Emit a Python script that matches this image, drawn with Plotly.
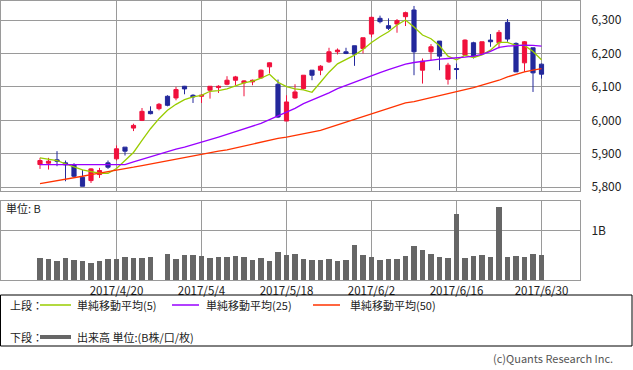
import plotly.graph_objects as go

# ---------------- data ----------------
idx = list(range(60))
tick_idx = [9, 19, 29, 39, 49, 59]
tick_labels = ["2017/4/20", "2017/5/4", "2017/5/18", "2017/6/2", "2017/6/16", "2017/6/30"]
price_ticks = [5800, 5900, 6000, 6100, 6200, 6300]

open_ = [5868, 5872, 5882, 5873, 5868, 5830, 5820, 5838, 5873, 5885,
         5920, 5977, 6000, 6027, 6035, 6072, 6067, 6102, 6075, 6072,
         6090, 6098, 6108, 6120, 6112, 6115, 6127, 6160, 6108, 5998,
         6067, 6095, 6150, 6150, 6175, 6205, 6205, 6223, 6215, 6258,
         6305, 6283, 6288, 6310, 6330, 6150, 6205, 6237, 6123, 6155,
         6195, 6232, 6200, 6240, 6232, 6293, 6230, 6172, 6217, 6168]
high = [5888, 5888, 5908, 5880, 5872, 5852, 5857, 5858, 5880, 5925,
        5920, 5990, 6037, 6042, 6052, 6075, 6100, 6103, 6078, 6078,
        6102, 6105, 6132, 6133, 6120, 6122, 6152, 6173, 6122, 6075,
        6108, 6135, 6150, 6165, 6217, 6215, 6217, 6223, 6247, 6310,
        6313, 6305, 6303, 6325, 6342, 6185, 6228, 6237, 6172, 6170,
        6242, 6235, 6235, 6258, 6270, 6303, 6233, 6237, 6217, 6170]
low = [5855, 5853, 5863, 5818, 5830, 5803, 5813, 5828, 5855, 5880,
       5895, 5968, 5998, 6018, 6030, 6042, 6060, 6078, 6052, 6052,
       6065, 6082, 6105, 6105, 6072, 6105, 6125, 6140, 6007, 5998,
       6065, 6092, 6120, 6135, 6172, 6197, 6198, 6163, 6200, 6248,
       6290, 6270, 6262, 6282, 6135, 6110, 6180, 6150, 6107, 6123,
       6195, 6185, 6200, 6220, 6215, 6235, 6145, 6145, 6085, 6125]
close = [5880, 5878, 5878, 5867, 5833, 5803, 5855, 5850, 5860, 5915,
         5908, 5985, 6027, 6020, 6048, 6045, 6092, 6094, 6070, 6075,
         6102, 6102, 6120, 6130, 6118, 6120, 6150, 6172, 6010, 6055,
         6085, 6135, 6135, 6162, 6205, 6210, 6200, 6198, 6247, 6308,
         6295, 6275, 6298, 6322, 6205, 6177, 6220, 6192, 6165, 6152,
         6240, 6190, 6235, 6235, 6263, 6243, 6145, 6235, 6142, 6138]

ma5 = [5888, 5884, 5880, 5870, 5860, 5852, 5847, 5842, 5842, 5856,
       5880, 5904, 5940, 5975, 6005, 6030, 6048, 6062, 6070, 6075,
       6087, 6089, 6094, 6104, 6112, 6117, 6126, 6138, 6114, 6101,
       6094, 6091, 6084, 6114, 6144, 6169, 6182, 6195, 6212, 6233,
       6250, 6265, 6285, 6300, 6279, 6255, 6244, 6223, 6192, 6181,
       6194, 6188, 6196, 6210, 6233, 6233, 6224, 6224, 6206, 6181]
ma25 = [5868, 5868, 5868, 5868, 5868, 5868, 5868, 5868, 5868, 5868,
        5868, 5876, 5884, 5892, 5900, 5907, 5914, 5920, 5927, 5935,
        5943, 5950, 5958, 5966, 5974, 5982, 5991, 6002, 6013, 6023,
        6036, 6050, 6060, 6070, 6082, 6095, 6105, 6115, 6125, 6135,
        6143, 6152, 6160, 6168, 6173, 6177, 6180, 6183, 6185, 6186,
        6189, 6192, 6197, 6206, 6218, 6222, 6224, 6225, 6224, 6222]
ma50 = [5811, 5815, 5820, 5824, 5828, 5833, 5838, 5842, 5846, 5850,
        5855, 5860, 5865, 5870, 5875, 5880, 5885, 5890, 5895, 5900,
        5904, 5908, 5912, 5918, 5924, 5930, 5936, 5942, 5946, 5950,
        5955, 5960, 5965, 5970, 5978, 5986, 5995, 6003, 6010, 6018,
        6026, 6036, 6044, 6052, 6056, 6062, 6067, 6073, 6078, 6085,
        6092, 6098, 6105, 6112, 6120, 6130, 6138, 6145, 6150, 6155]

volume_b = [0.44, 0.42, 0.385, 0.44, 0.405, 0.385, 0.34, 0.385, 0.42, 0.42,
            0.46, 0.44, 0.44, 0.46, None, 0.52, 0.42, 0.50, 0.50, 0.48,
            0.44, 0.46, 0.46, 0.48, 0.46, 0.40, 0.44, 0.385, 0.56, 0.50,
            0.52, 0.42, 0.40, 0.40, 0.42, 0.38, 0.40, 0.70, 0.50, 0.46,
            0.40, 0.42, 0.42, 0.48, 0.68, 0.60, 0.52, 0.46, 0.44, 1.33,
            0.44, 0.48, 0.50, 0.46, 1.47, 0.46, 0.48, 0.46, 0.52, 0.50]

legend_names = ["単純移動平均(5)", "単純移動平均(25)", "単純移動平均(50)"]

# ---------------- style ----------------
RED = "#f0103c"
BLUE = "#23289b"
C5 = "#99cc00"
C25 = "#9900ff"
C50 = "#ff3300"
VOLC = "#666666"
GRID = "#9a9a9a"
FONT = "Noto Sans CJK JP"

W, H = 633, 370
ML, MR, MT, MB = 1, 53, 0, 90
PW, PH = W - ML - MR, H - MT - MB


def fx(px):
    return (px - ML) / PW


def fy(py):
    return (PH - (py - MT)) / PH


fig = go.Figure()

fig.add_trace(go.Candlestick(
    x=idx, open=open_, high=high, low=low, close=close,
    increasing=dict(line=dict(color=RED, width=1), fillcolor=RED),
    decreasing=dict(line=dict(color=BLUE, width=1), fillcolor=BLUE),
    whiskerwidth=0, showlegend=False, hoverinfo="skip",
    xaxis="x", yaxis="y"))

for vals, col, name in [(ma5, C5, legend_names[0]), (ma25, C25, legend_names[1]), (ma50, C50, legend_names[2])]:
    fig.add_trace(go.Scatter(x=idx, y=vals, mode="lines", name=name,
                             line=dict(color=col, width=1.3), showlegend=False,
                             hoverinfo="skip", xaxis="x", yaxis="y"))

fig.add_trace(go.Bar(x=idx, y=volume_b, marker=dict(color=VOLC, line=dict(width=0)),
                     width=0.68, showlegend=False, hoverinfo="skip",
                     xaxis="x2", yaxis="y2"))

xr = [(ML - 40) / 8.5, (W - MR - 40) / 8.5]
axis_common = dict(showline=True, mirror=True, linecolor=GRID, linewidth=1,
                   gridcolor=GRID, gridwidth=1, zeroline=False)

fig.update_layout(
    width=W, height=H,
    margin=dict(l=ML, r=MR, t=MT, b=MB),
    paper_bgcolor="white", plot_bgcolor="white",
    font=dict(family=FONT, size=12, color="#222"),
    showlegend=False,
    bargap=0,
    hovermode=False,
    xaxis=dict(domain=[0, 1], range=xr, tickvals=tick_idx, showticklabels=False,
               showgrid=True, rangeslider=dict(visible=False), anchor="y", **axis_common),
    yaxis=dict(domain=[fy(191), fy(1)], range=[5788.9, 6356.8], side="right",
               tickvals=price_ticks, tickformat=",", showgrid=True, anchor="x",
               ticklabelstandoff=8, tickfont=dict(size=12, color="#222"), **axis_common),
    xaxis2=dict(domain=[0, 1], range=xr, tickvals=tick_idx, ticktext=tick_labels,
                showgrid=True, anchor="y2", matches="x",
                tickfont=dict(size=11.5, color="#222"), **axis_common),
    yaxis2=dict(domain=[0, fy(201)], range=[0, 1.59], side="right",
                tickvals=[1], ticktext=["1B"], showgrid=True, anchor="x2",
                ticklabelstandoff=8, tickfont=dict(size=12, color="#222"), **axis_common),
)

shapes = []
annotations = []
# legend box
shapes.append(dict(type="rect", xref="paper", yref="paper",
                   x0=fx(0.5), x1=fx(632), y0=fy(295), y1=fy(346),
                   line=dict(color="black", width=1), fillcolor="rgba(0,0,0,0)"))
row1, row2 = 305, 337
for (x0, x1), col in zip([(40, 71), (172, 199), (313, 340)], [C5, C25, C50]):
    shapes.append(dict(type="line", xref="paper", yref="paper",
                       x0=fx(x0), x1=fx(x1), y0=fy(row1), y1=fy(row1),
                       line=dict(color=col, width=1.5)))
shapes.append(dict(type="line", xref="paper", yref="paper",
                   x0=fx(40), x1=fx(71), y0=fy(row2), y1=fy(row2),
                   line=dict(color=VOLC, width=4)))


def txt(x, y, s, size=11, color="#222", xanchor="left"):
    annotations.append(dict(text=s, x=fx(x), y=fy(y), xref="paper", yref="paper",
                            xanchor=xanchor, yanchor="middle", showarrow=False,
                            font=dict(family=FONT, size=size, color=color)))


txt(8, row1, "上段：")
for x, s in zip([75, 204, 348], legend_names):
    txt(x, row1, s)
txt(8, row2, "下段：")
txt(75, row2, "出来高 単位:(B株/口/枚)")
txt(4, 208, "単位: B")
txt(615, 358, "(c)Quants Research Inc.", size=11, color="#555", xanchor="right")

fig.update_layout(shapes=shapes, annotations=annotations)

fig.write_html("out.html",
               config={"displayModeBar": False, "staticPlot": True},
               post_script="document.body.style.margin='0px';document.body.style.padding='0px';")
